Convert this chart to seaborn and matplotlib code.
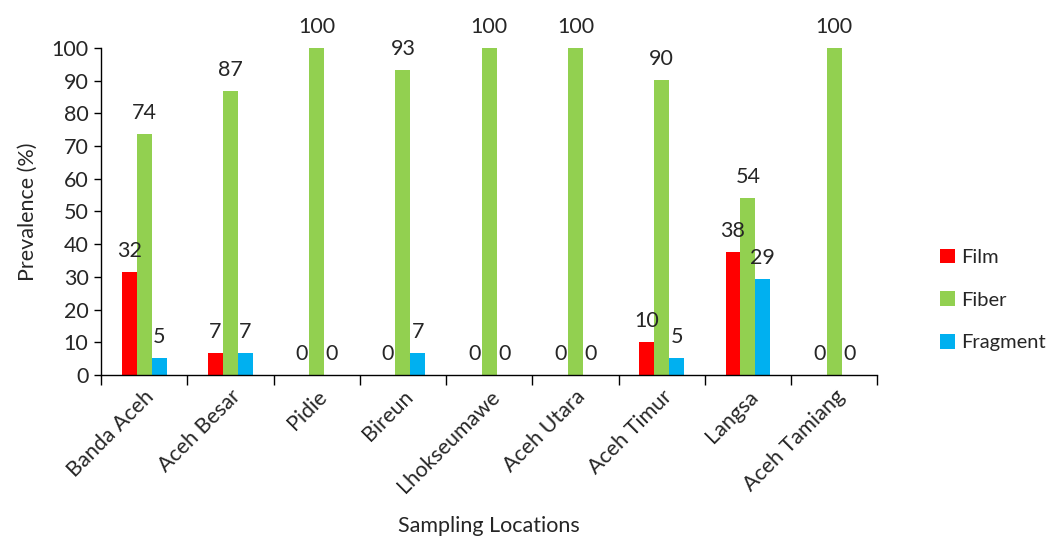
import pandas as pd
import seaborn as sns
import matplotlib.pyplot as plt
from matplotlib.ticker import FixedLocator

# data
locations = ['Banda Aceh', 'Aceh Besar', 'Pidie', 'Bireun', 'Lhokseumawe',
             'Aceh Utara', 'Aceh Timur', 'Langsa', 'Aceh Tamiang']
film = [31.6, 6.7, 0, 0, 0, 0, 10.1, 37.6, 0]
fiber = [73.7, 86.7, 100, 93.3, 100, 100, 90.2, 54.2, 100]
fragment = [5.3, 6.7, 0, 6.7, 0, 0, 5.2, 29.4, 0]
types = ['Film', 'Fiber', 'Fragment']
colors = ['#FF0000', '#92D050', '#00B0F0']

df = pd.DataFrame({'Location': locations * 3,
                   'Type': [t for t in types for _ in locations],
                   'Prevalence': film + fiber + fragment})

sns.set_style('white')
plt.rcParams['font.family'] = ['Lato', 'DejaVu Sans']
fs = 15.5

fig = plt.figure(figsize=(10.52, 5.43), dpi=100)
ax = fig.add_axes([0.096, 0.309, 0.738, 0.603])
sns.barplot(data=df, x='Location', y='Prevalence', hue='Type', palette=colors,
            width=0.52, ax=ax, saturation=1, linewidth=0, edgecolor='none')

for cont in ax.containers:
    ax.bar_label(cont, fmt='{:.0f}', padding=8, fontsize=fs, clip_on=False)

ax.set_xlim(-0.5, 8.5)
ax.set_ylim(0, 100)
ax.set_yticks(range(0, 101, 10))
ax.tick_params(axis='y', labelsize=fs, length=5, width=1, color='black', left=True, pad=4)
ax.tick_params(axis='x', which='major', length=0, labelsize=fs, pad=8)
ax.xaxis.set_minor_locator(FixedLocator([i - 0.5 for i in range(10)]))
ax.tick_params(axis='x', which='minor', length=7, width=1, color='black', bottom=True)
plt.setp(ax.get_xticklabels(), rotation=45, ha='right', rotation_mode='anchor')

for side in ['top', 'right']:
    ax.spines[side].set_visible(False)
for side in ['left', 'bottom']:
    ax.spines[side].set_color('black')
    ax.spines[side].set_linewidth(1)

ax.set_xlabel('Sampling Locations', fontsize=fs, labelpad=14)
ax.set_ylabel('Prevalence (%)', fontsize=fs, labelpad=10)

ax.legend(loc='center left', bbox_to_anchor=(1.07, 0.23), frameon=False,
          fontsize=14.5, handlelength=0.75, handleheight=0.75, labelspacing=1.25,
          handletextpad=0.3, borderaxespad=0, title=None)

plt.savefig('out.png', dpi=100)
